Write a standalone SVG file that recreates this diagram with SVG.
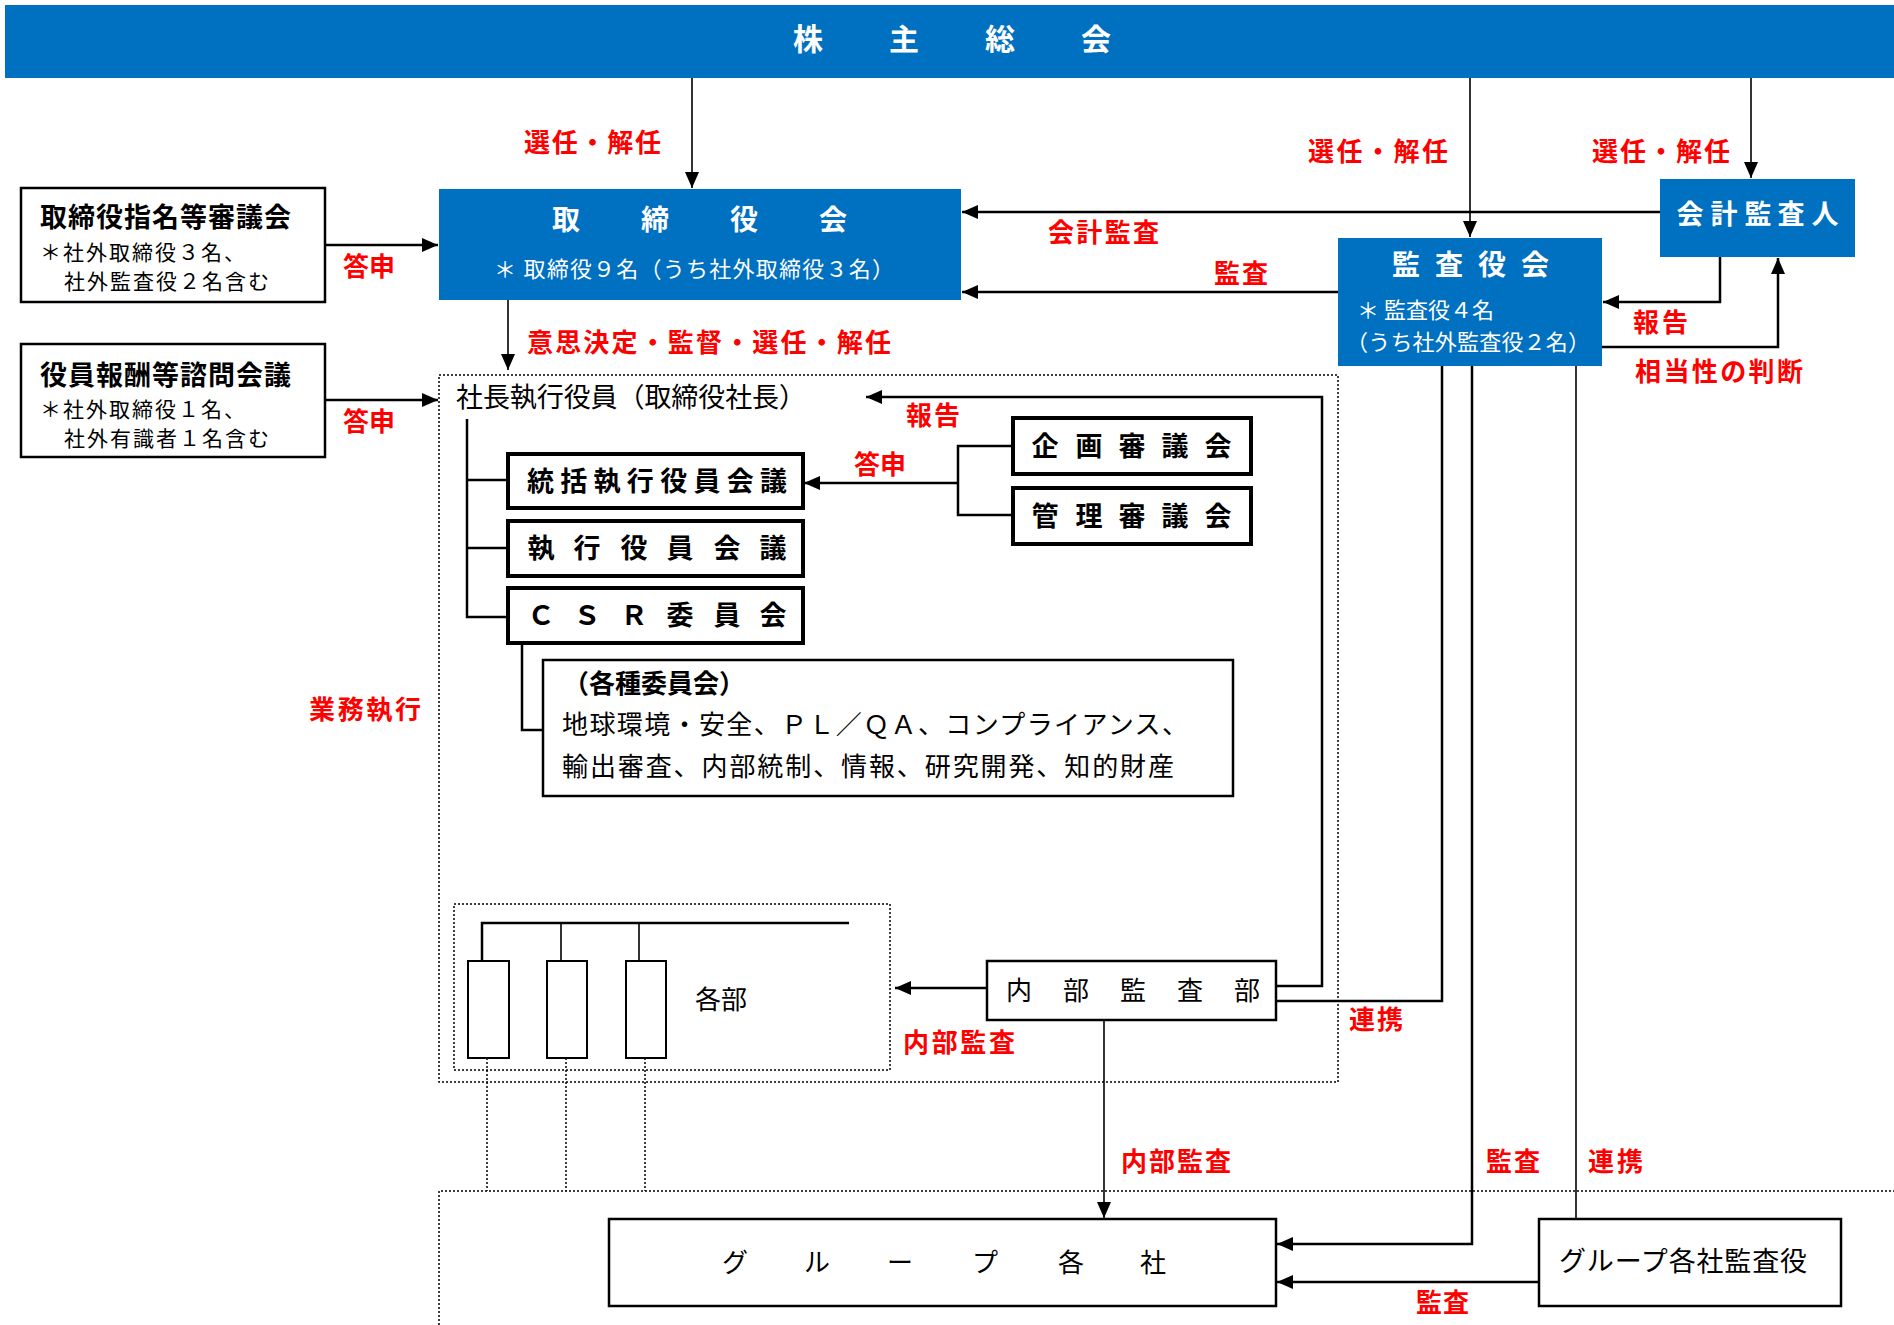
<svg xmlns="http://www.w3.org/2000/svg" width="1894" height="1325" viewBox="0 0 1894 1325">
<style>
text{font-family:"Noto Sans CJK JP","Noto Sans",sans-serif;dominant-baseline:central;fill:#000;transform:translateY(-2.5px)}
.w{fill:#fff}
.b{font-weight:700}
.red{fill:#ff0000;font-weight:700;font-size:26px}
.box{fill:#fff;stroke:#000;stroke-width:2.5}
.tbox{fill:#fff;stroke:#000;stroke-width:4}
.blue{fill:#0070c0;stroke:none}
.dot{fill:none;stroke:#000;stroke-width:1.5;stroke-dasharray:2 2}
.c{fill:none;stroke:#000;stroke-width:1.6}
.ck{fill:none;stroke:#000;stroke-width:2.5}
.mid{text-anchor:middle}
</style>
<defs>
<marker id="ah" markerUnits="userSpaceOnUse" viewBox="0 0 16 14" markerWidth="16" markerHeight="14" refX="16" refY="7" orient="auto">
<path d="M0,0 L16,7 L0,14 z" fill="#000"/>
</marker>
</defs>
<rect width="1894" height="1325" fill="#fff"/>

<g id="region-execution">
<rect class="dot" x="439" y="375" width="899" height="707"/>
</g>
<g id="region-group">
<path class="dot" d="M439,1325 V1191 H1894"/>
</g>

<g id="node-shareholders">
<rect class="blue" x="5" y="5" width="1889" height="73"/>
<text class="w b mid" font-size="30" x="808 904 1000 1096" y="39">株主総会</text>
</g>

<g id="node-board">
<rect class="blue" x="439" y="189" width="522" height="111"/>
<text class="w b mid" font-size="28" x="566 655 744 833" y="220">取締役会</text>
<text class="w" font-size="22" x="494" y="269" textLength="400" lengthAdjust="spacing">＊ 取締役９名（うち社外取締役３名）</text>
</g>

<g id="node-nomination">
<rect class="box" x="21" y="188" width="304" height="114"/>
<text class="b" font-size="27" x="40" y="218" textLength="251" lengthAdjust="spacing">取締役指名等審議会</text>
<text font-size="21" x="40" y="253" textLength="205" lengthAdjust="spacing">＊社外取締役３名、</text>
<text font-size="21" x="64" y="282" textLength="205" lengthAdjust="spacing">社外監査役２名含む</text>
</g>

<g id="node-compensation">
<rect class="box" x="21" y="344" width="304" height="113"/>
<text class="b" font-size="27" x="40" y="376" textLength="251" lengthAdjust="spacing">役員報酬等諮問会議</text>
<text font-size="21" x="40" y="410" textLength="205" lengthAdjust="spacing">＊社外取締役１名、</text>
<text font-size="21" x="64" y="439" textLength="205" lengthAdjust="spacing">社外有識者１名含む</text>
</g>

<g id="node-audit-board">
<rect class="blue" x="1338" y="238" width="264" height="128"/>
<text class="w b mid" font-size="28" x="1406 1449 1492 1535" y="265">監査役会</text>
<text class="w" font-size="22" x="1357" y="310">＊ 監査役４名</text>
<text class="w" font-size="22" x="1346" y="342" textLength="244" lengthAdjust="spacing">（うち社外監査役２名）</text>
</g>

<g id="node-accounting-auditor">
<rect class="blue" x="1660" y="179" width="195" height="78"/>
<text class="w b mid" font-size="27" x="1690 1724 1758 1791 1825" y="215">会計監査人</text>
</g>

<g id="node-president">
<text font-size="27" x="456" y="398" textLength="350" lengthAdjust="spacing">社長執行役員（取締役社長）</text>
</g>

<g id="node-exec-general">
<rect class="tbox" x="508" y="454" width="295" height="54"/>
<text class="b" font-size="27" x="527" y="482" textLength="260" lengthAdjust="spacing">統括執行役員会議</text>
</g>
<g id="node-exec">
<rect class="tbox" x="508" y="521" width="295" height="55"/>
<text class="b mid" font-size="27" x="541 587 634 680 727 773" y="549">執行役員会議</text>
</g>
<g id="node-csr">
<rect class="tbox" x="508" y="588" width="295" height="55"/>
<text class="b mid" font-size="27" x="541 587 634 680 727 773" y="616">ＣＳＲ委員会</text>
</g>

<g id="node-planning">
<rect class="tbox" x="1013" y="418" width="238" height="56"/>
<text class="b mid" font-size="27" x="1045 1089 1132 1175 1218" y="447">企画審議会</text>
</g>
<g id="node-management">
<rect class="tbox" x="1013" y="488" width="238" height="56"/>
<text class="b mid" font-size="27" x="1045 1089 1132 1175 1218" y="517">管理審議会</text>
</g>

<g id="node-committees">
<rect class="box" x="543" y="660" width="690" height="136"/>
<text class="b" font-size="26" x="563" y="684">（各種委員会）</text>
<text font-size="26" x="562" y="725" textLength="626" lengthAdjust="spacing">地球環境・安全、ＰＬ／ＱＡ、コンプライアンス、</text>
<text font-size="26" x="562" y="767" textLength="612" lengthAdjust="spacing">輸出審査、内部統制、情報、研究開発、知的財産</text>
</g>

<g id="node-departments">
<rect class="dot" x="454" y="904" width="436" height="166"/>
<path class="ck" d="M482,961 V923 H849"/>
<path class="c" d="M561,923 V961 M639,923 V961"/>
<rect fill="#fff" stroke="#000" stroke-width="2" x="468" y="961" width="41" height="97"/>
<rect fill="#fff" stroke="#000" stroke-width="2" x="547" y="961" width="40" height="97"/>
<rect fill="#fff" stroke="#000" stroke-width="2" x="626" y="961" width="40" height="97"/>
<text font-size="26" x="695" y="1000">各部</text>
</g>

<g id="node-internal-audit">
<rect class="box" x="987" y="961" width="289" height="59"/>
<text class="mid" font-size="26" x="1019 1076 1133 1190 1247" y="991">内部監査部</text>
</g>

<g id="node-group">
<rect class="box" x="609" y="1219" width="667" height="87"/>
<text class="mid" font-size="26" x="735 817 900 985 1071 1153" y="1263">グループ各社</text>
</g>

<g id="node-group-auditors">
<rect class="box" x="1539" y="1219" width="302" height="87"/>
<text font-size="27" x="1559" y="1262" textLength="248" lengthAdjust="spacing">グループ各社監査役</text>
</g>

<g id="connectors">
<path class="c" d="M692,78 V188" marker-end="url(#ah)"/>
<path class="c" d="M1470,78 V237" marker-end="url(#ah)"/>
<path class="c" d="M1751,78 V178" marker-end="url(#ah)"/>
<path class="ck" d="M1660,212 H962" marker-end="url(#ah)"/>
<path class="ck" d="M1338,292 H962" marker-end="url(#ah)"/>
<path class="ck" d="M1720,257 V302 H1603" marker-end="url(#ah)"/>
<path class="ck" d="M1602,347 H1778 V258" marker-end="url(#ah)"/>
<path class="ck" d="M325,245 H438" marker-end="url(#ah)"/>
<path class="ck" d="M325,400 H438" marker-end="url(#ah)"/>
<path class="c" d="M508,300 V370" marker-end="url(#ah)"/>
<path class="ck" d="M1276,986 H1322 V397 H866" marker-end="url(#ah)"/>
<path class="ck" d="M467,419 V617 H508 M467,480 H508 M467,548 H508"/>
<path class="ck" d="M522,643 V730 H543"/>
<path class="ck" d="M1013,446 H958 V515 H1013"/>
<path class="ck" d="M958,483 H804" marker-end="url(#ah)"/>
<path class="ck" d="M987,988 H895" marker-end="url(#ah)"/>
<path class="ck" d="M1442,366 V1001 H1276"/>
<path class="ck" d="M1472,366 V1244 H1277" marker-end="url(#ah)"/>
<path class="c" d="M1576,366 V1219"/>
<path class="c" d="M1104,1020 V1218" marker-end="url(#ah)"/>
<path class="ck" d="M1539,1282 H1277" marker-end="url(#ah)"/>
<path class="dot" d="M487,1058 V1191 M566,1058 V1191 M645,1058 V1191"/>
</g>

<g id="labels">
<text class="red" x="524" y="143" textLength="137" lengthAdjust="spacing">選任・解任</text>
<text class="red" x="1308" y="152" textLength="140" lengthAdjust="spacing">選任・解任</text>
<text class="red" x="1592" y="152" textLength="138" lengthAdjust="spacing">選任・解任</text>
<text class="red" x="343" y="267" textLength="52" lengthAdjust="spacing">答申</text>
<text class="red" x="343" y="422" textLength="52" lengthAdjust="spacing">答申</text>
<text class="red" x="527" y="343" textLength="364" lengthAdjust="spacing">意思決定・監督・選任・解任</text>
<text class="red" x="1048" y="233" textLength="111" lengthAdjust="spacing">会計監査</text>
<text class="red" x="1214" y="274" textLength="54" lengthAdjust="spacing">監査</text>
<text class="red" x="1633" y="323" textLength="55" lengthAdjust="spacing">報告</text>
<text class="red" x="1635" y="372" textLength="168" lengthAdjust="spacing">相当性の判断</text>
<text class="red" x="906" y="416" textLength="54" lengthAdjust="spacing">報告</text>
<text class="red" x="854" y="465" textLength="52" lengthAdjust="spacing">答申</text>
<text class="red" x="309" y="710" textLength="112" lengthAdjust="spacing">業務執行</text>
<text class="red" x="1349" y="1020" textLength="54" lengthAdjust="spacing">連携</text>
<text class="red" x="903" y="1043" textLength="112" lengthAdjust="spacing">内部監査</text>
<text class="red" x="1121" y="1162" textLength="110" lengthAdjust="spacing">内部監査</text>
<text class="red" x="1486" y="1162" textLength="54" lengthAdjust="spacing">監査</text>
<text class="red" x="1588" y="1162" textLength="55" lengthAdjust="spacing">連携</text>
<text class="red" x="1416" y="1303" textLength="53" lengthAdjust="spacing">監査</text>
</g>
</svg>
